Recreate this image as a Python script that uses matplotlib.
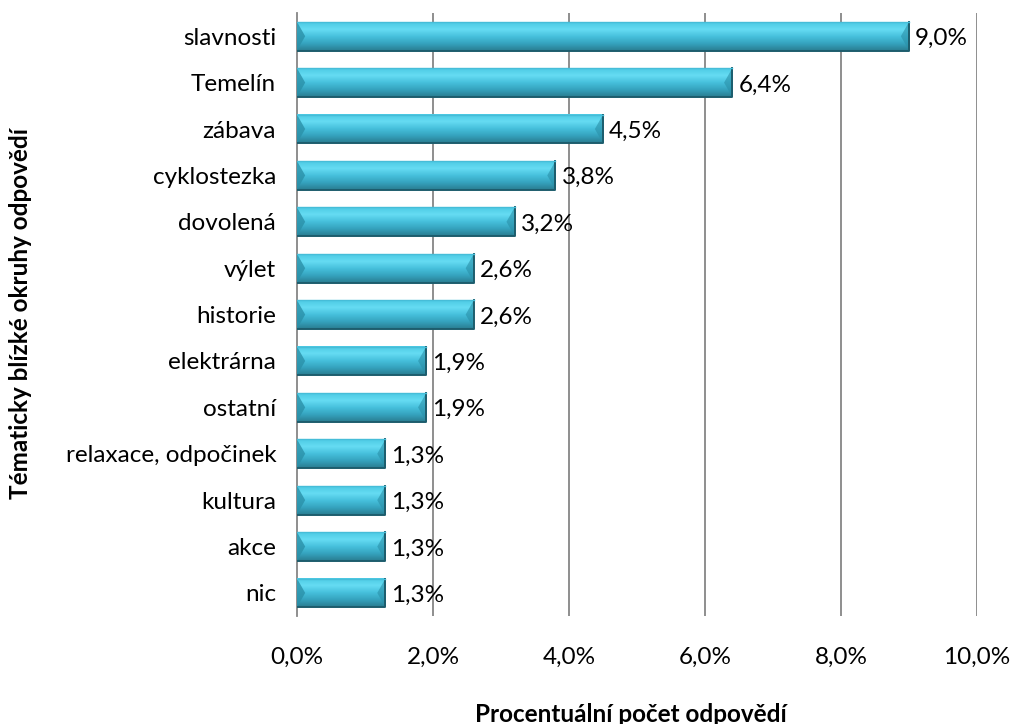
import numpy as np
import matplotlib.pyplot as plt
from matplotlib.colors import LinearSegmentedColormap
from matplotlib.patches import Polygon

plt.rcParams['font.family'] = ['Lato', 'DejaVu Sans']

categories = ["slavnosti", "Temelín", "zábava", "cyklostezka", "dovolená", "výlet",
              "historie", "elektrárna", "ostatní", "relaxace, odpočinek", "kultura",
              "akce", "nic"]
values = [9.0, 6.4, 4.5, 3.8, 3.2, 2.6, 2.6, 1.9, 1.9, 1.3, 1.3, 1.3, 1.3]
x_ticks = [0, 2, 4, 6, 8, 10]

BAR_H = 0.62
FS = 17.5

bar_cmap = LinearSegmentedColormap.from_list(
    "bevel", ["#2a7d91", "#35a2bd", "#46c0dc", "#66dcf3", "#4ccae4"])


def draw_bar(ax, y, value):
    grad = np.linspace(0, 1, 64).reshape(-1, 1)
    ax.imshow(grad, aspect="auto", cmap=bar_cmap, origin="lower",
              extent=(0, value, y + BAR_H / 2, y - BAR_H / 2), zorder=3)
    # bevel edges: darker left triangle and right end
    bw = 0.12
    ax.add_patch(Polygon([(0, y - BAR_H / 2), (bw, y), (0, y + BAR_H / 2)],
                         closed=True, facecolor="#2a90a8", edgecolor="none",
                         zorder=4, alpha=0.8))
    ax.add_patch(Polygon([(value, y - BAR_H / 2), (value - bw, y), (value, y + BAR_H / 2)],
                         closed=True, facecolor="#2a90a8", edgecolor="none",
                         zorder=4, alpha=0.6))
    ax.plot([0, value, value], [y + BAR_H / 2, y + BAR_H / 2, y - BAR_H / 2],
            color="#1d5d6d", lw=1.4, zorder=5)
    ax.plot([0, value], [y - BAR_H / 2, y - BAR_H / 2], color="#46bdd8", lw=1, zorder=5)


def main():
    fig = plt.figure(figsize=(10.13, 7.24), dpi=100)
    ax = fig.add_axes([0.2932, 0.149, 0.6713, 0.833])

    ys = np.arange(len(categories))
    for y, v in zip(ys, values):
        draw_bar(ax, y, v)
        ax.text(v + 0.09, y + 0.05, "{:.1f}%".format(v).replace(".", ","),
                va="center", ha="left", fontsize=FS, color="#000000", zorder=6)

    ax.set_xlim(0, 10)
    ax.set_ylim(len(categories) - 0.5, -0.5)
    ax.set_xticks(x_ticks)
    ax.set_xticklabels(["{:.1f}%".format(t).replace(".", ",") for t in x_ticks], fontsize=FS)
    ax.set_yticks(ys)
    ax.set_yticklabels(categories, fontsize=FS)
    ax.tick_params(axis="x", length=0, pad=22)
    ax.tick_params(axis="y", length=0, pad=15)

    for x in x_ticks[1:]:
        ax.axvline(x, color="#868686", lw=1.3, zorder=1)
    for side in ["top", "right", "bottom"]:
        ax.spines[side].set_visible(False)
    ax.spines["left"].set_color("#868686")
    ax.spines["left"].set_linewidth(1.3)

    fig.text(631 / 1013, 1 - 714 / 724, "Procentuální počet odpovědí",
             fontsize=FS, fontweight="bold", ha="center", va="center")
    fig.text(21 / 1013, 1 - 314 / 724, "Tématicky blízké okruhy odpovědí",
             fontsize=FS, fontweight="bold", ha="center", va="center", rotation=90)

    fig.savefig("out.png", dpi=100)


if __name__ == '__main__':
    main()
